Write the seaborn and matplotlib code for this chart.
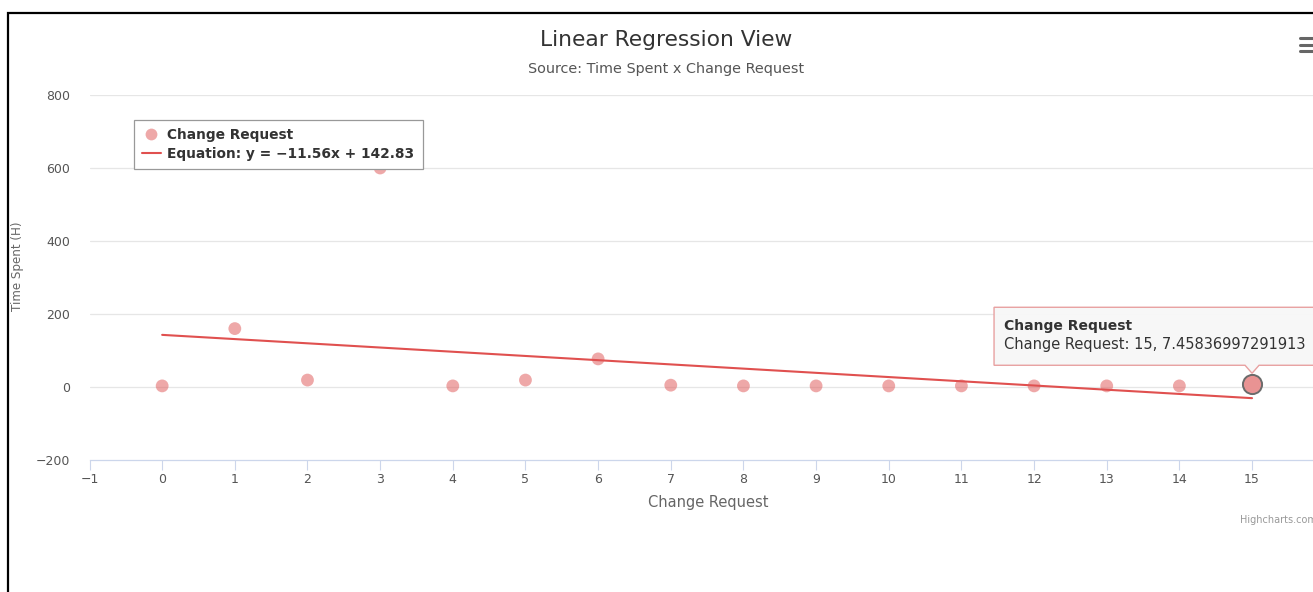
import matplotlib
matplotlib.use("Agg")
import matplotlib.pyplot as plt
import seaborn as sns
import numpy as np
import pandas as pd
from matplotlib.lines import Line2D
from matplotlib.patches import Polygon, Rectangle

# ---- data ----
change_requests = list(range(16))
time_spent = [3, 160, 19, 600, 3, 19, 77, 5, 3, 3, 3, 3, 3, 3, 3, 7.45836997291913]
slope = -11.56
intercept = 142.83
x_ticks = list(range(-1, 17))
y_ticks = [-200, 0, 200, 400, 600, 800]
series_name = "Change Request"
title = "Linear Regression View"
subtitle = "Source: Time Spent x Change Request"
x_title = "Change Request"
y_title = "Time Spent (H)"
credit = "Highcharts.com"
hover_index = 15

# ---- style ----
W, H = 1313, 592
sns.set_style("white")
plt.rcParams["font.family"] = ["DejaVu Sans"]

point_rgba = (223 / 255, 83 / 255, 83 / 255, 0.5)
line_color = "#e0504f"
grid_color = "#e6e6e6"
axis_color = "#ccd6eb"
label_color = "#666666"

fig = plt.figure(figsize=(W / 100, H / 100), dpi=100)


def fx(px):
    return px / W


def fy(py):
    return 1 - py / H


ax_left, ax_right, ax_top, ax_bottom = 89.5, 1324.7, 95, 460
ax = fig.add_axes([fx(ax_left), fy(ax_bottom), (ax_right - ax_left) / W, (ax_bottom - ax_top) / H])

df = pd.DataFrame({"cr": change_requests, "ts": time_spent})

# regression line from the stated equation
line_x = np.array([min(change_requests), max(change_requests)], dtype=float)
line_y = slope * line_x + intercept
sns.lineplot(x=line_x, y=line_y, color=line_color, lw=1.5, ax=ax, zorder=3)

sns.scatterplot(data=df, x="cr", y="ts", color=point_rgba[:3], alpha=0.5,
                s=85, edgecolor="none", ax=ax, legend=False, zorder=4)

# hovered point
hx, hy = change_requests[hover_index], time_spent[hover_index]
ax.scatter([hx], [hy], s=190, facecolor="#e99393",
           edgecolor="#6b6b6b", linewidth=1.4, zorder=6)

ax.set_xlim(-1, 16)
ax.set_ylim(-200, 800)
ax.set_xticks(x_ticks)
ax.set_yticks(y_ticks)
ax.set_xticklabels([str(v).replace("-", "\u2212") for v in x_ticks])
ax.set_yticklabels([f"{v:,}".replace("-", "\u2212") for v in y_ticks])

# grid and axis lines
ax.grid(False)
for v in y_ticks[1:]:
    ax.axhline(v, color=grid_color, lw=0.9, zorder=1)
for s in ["top", "right", "left"]:
    ax.spines[s].set_visible(False)
ax.spines["bottom"].set_color(axis_color)
ax.spines["bottom"].set_linewidth(0.9)
ax.tick_params(axis="x", direction="out", length=7.5, width=0.8, color=axis_color,
               labelsize=9, labelcolor="#555555", pad=2, bottom=True)
ax.tick_params(axis="y", length=0, labelsize=9, labelcolor="#555555", pad=14)

ax.set_xlabel(x_title, fontsize=10.5, color=label_color)
ax.xaxis.set_label_coords((708 - ax_left) / (ax_right - ax_left), -(502 - ax_bottom) / (ax_bottom - ax_top))
ax.xaxis.label.set_va("center")
ax.set_ylabel(y_title, fontsize=8.6, color=label_color)
ax.yaxis.set_label_coords(-(ax_left - 18) / (ax_right - ax_left), (ax_bottom - 266) / (ax_bottom - ax_top))
ax.yaxis.label.set_va("center")

# titles
fig.text(fx(666), fy(40), title, fontsize=15.7, color="#333333", ha="center", va="center")
fig.text(fx(666), fy(69), subtitle, fontsize=10.4, color="#555555", ha="center", va="center")

# legend
handles = [
    Line2D([], [], marker="o", ls="none", markersize=8.5, markerfacecolor=point_rgba,
           markeredgecolor="none"),
    Line2D([], [], color=line_color, lw=1.5),
]
labels = [series_name, f"Equation: y = {slope:.2f}x + {intercept:.2f}".replace("-", "\u2212")]
leg = fig.legend(handles, labels, loc="upper left", bbox_to_anchor=(fx(134), fy(120)),
                 bbox_transform=fig.transFigure, frameon=True, fancybox=False,
                 edgecolor="#999999", framealpha=1, borderaxespad=0, borderpad=0.58,
                 handlelength=1.35, handletextpad=0.5, labelspacing=0.38,
                 prop={"size": 9.9, "weight": "bold"})
for t in leg.get_texts():
    t.set_color("#333333")
leg.get_frame().set_linewidth(0.9)

# tooltip anchored above the hovered point
dx, dy = ax.transData.transform((hx, hy))
tx, ty = dx, H - dy - 11
left, right, top, bottom = tx - 258, tx + 80, ty - 66, ty - 8
pts = [(left, top), (right, top), (right, bottom), (tx + 7, bottom), (tx, ty),
       (tx - 7, bottom), (left, bottom)]
tip = Polygon([(fx(a), fy(b)) for a, b in pts], closed=True, transform=fig.transFigure,
              facecolor="#f7f7f7", edgecolor="#e79c9c", lw=1.0, alpha=0.95, zorder=10)
fig.add_artist(tip)
fig.text(fx(left + 10), fy(top + 19), series_name, fontsize=10, weight="bold",
         color="#333333", va="center", ha="left", zorder=11)
fig.text(fx(left + 10), fy(top + 37), f"{series_name}: {hx}, {hy}", fontsize=10.5,
         color="#333333", va="center", ha="left", zorder=11)

# context menu icon
for yy in [38, 44.5, 51]:
    fig.add_artist(Line2D([fx(1300), fx(1320)], [fy(yy), fy(yy)], color="#666666",
                          lw=2.2, transform=fig.transFigure))

# credit
fig.text(fx(1240), fy(520), credit, fontsize=7, color="#999999", ha="left", va="center")

# outer frame
fig.add_artist(Rectangle((fx(8), fy(700)), fx(1400), fy(13) - fy(700), fill=False,
                         edgecolor="black", lw=1.6, transform=fig.transFigure))

fig.savefig("out.png", dpi=100, facecolor="white")
